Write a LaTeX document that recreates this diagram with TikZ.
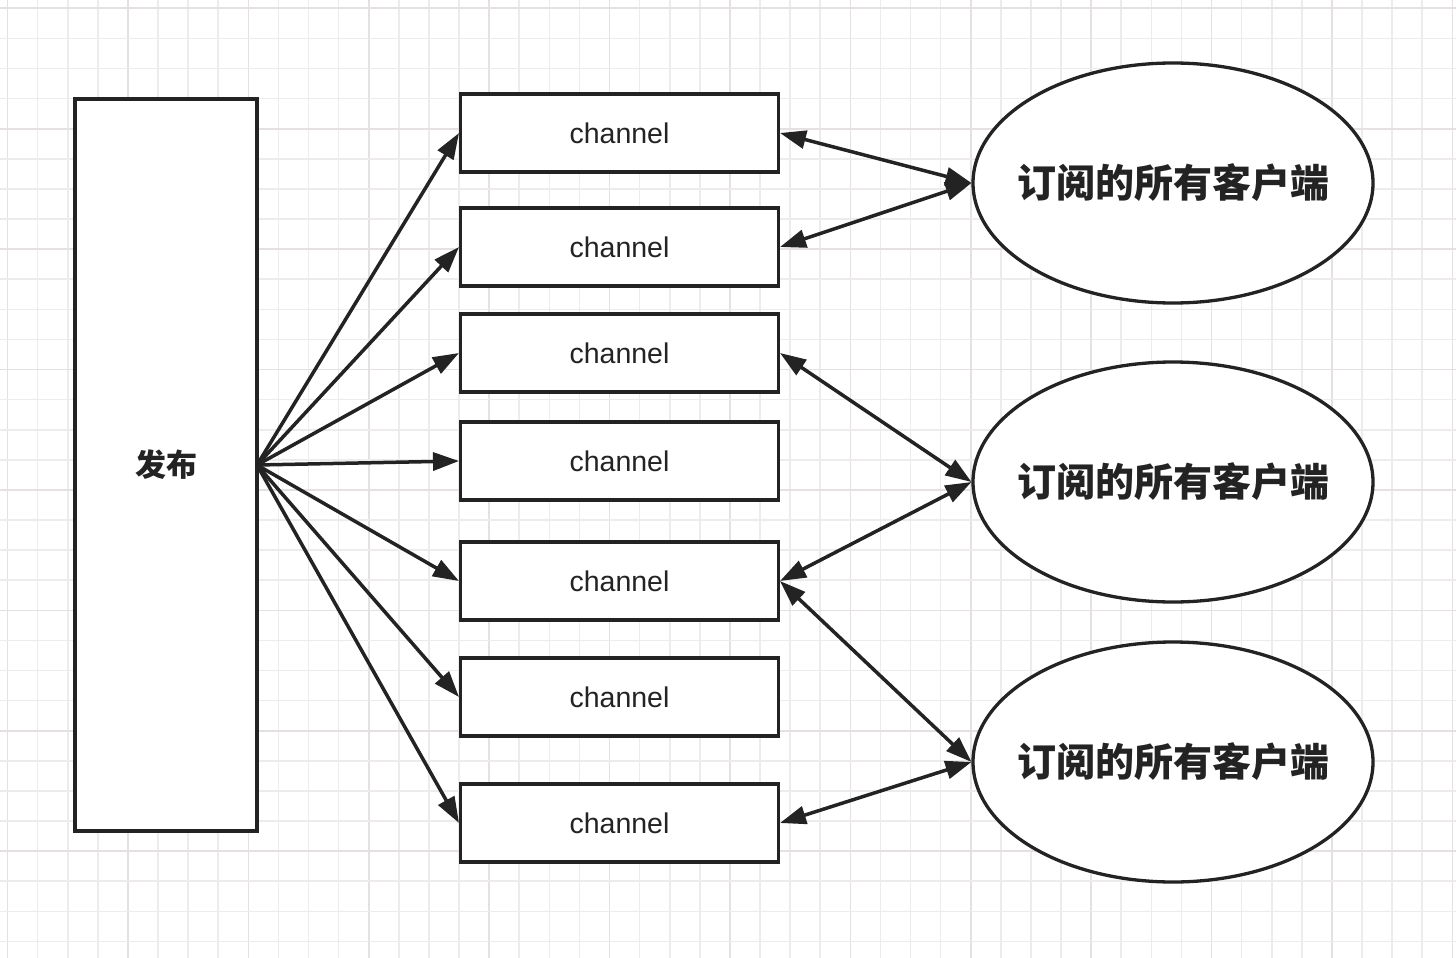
\documentclass[tikz,border=0pt]{standalone}
\usepackage{fontspec}
\setmainfont{Liberation Sans}
\newfontfamily\chfont{Liberation Sans}
\newfontfamily\cjk{Noto Sans CJK SC}
\usetikzlibrary{arrows.meta,shapes.geometric}
\definecolor{ink}{HTML}{232323}
\definecolor{gridminor}{HTML}{EEEBED}
\definecolor{gridmajor}{HTML}{E5E1E3}
\tikzset{
  chbox/.style={draw=ink,line width=3.3pt,fill=white,minimum width=318pt,minimum height=78pt,inner sep=0pt,outer sep=0pt,text=ink,font=\chfont\fontsize{28.5}{32}\selectfont},
  pubbox/.style={draw=ink,line width=3.3pt,fill=white,minimum width=182pt,minimum height=732pt,inner sep=0pt,outer sep=0pt,text=ink,font=\cjk\bfseries\fontsize{31}{36}\selectfont},
  client/.style={ellipse,draw=ink,line width=3.3pt,fill=white,minimum width=400pt,minimum height=240pt,inner xsep=-70pt,inner ysep=0pt,outer sep=0pt,text=ink,font=\cjk\bfseries\fontsize{39}{44}\selectfont},
  conn/.style={draw=ink,line width=3.5pt,-{Triangle[length=26pt,width=18pt]}},
  biconn/.style={draw=ink,line width=3.5pt,{Triangle[length=26pt,width=18pt]}-{Triangle[length=26pt,width=18pt]}},
}
\begin{document}
\begin{tikzpicture}[x=1pt,y=-1pt]
\useasboundingbox (0,0) rectangle (1456,958);
\fill[white] (0,0) rectangle (1456,958);
% grid
\foreach \i in {0,...,48} {
  \pgfmathsetmacro{\xx}{7.5+30.1*\i}
  \pgfmathtruncatemacro{\m}{mod(\i,4)}
  \ifnum\m=0
    \draw[gridmajor,line width=1.6pt] (\xx,0) -- (\xx,958);
  \else
    \draw[gridminor,line width=1.6pt] (\xx,0) -- (\xx,958);
  \fi
}
\foreach \i in {0,...,31} {
  \pgfmathsetmacro{\yy}{8.3+30.1*\i}
  \pgfmathtruncatemacro{\m}{mod(\i,4)}
  \ifnum\m=0
    \draw[gridmajor,line width=1.6pt] (0,\yy) -- (1456,\yy);
  \else
    \draw[gridminor,line width=1.6pt] (0,\yy) -- (1456,\yy);
  \fi
}
% nodes
\node[pubbox] (pub) at (166,465) {发布};
\node[chbox] (c1) at (619.5,133) {channel};
\node[chbox] (c2) at (619.5,247) {channel};
\node[chbox] (c3) at (619.5,353) {channel};
\node[chbox] (c4) at (619.5,461) {channel};
\node[chbox] (c5) at (619.5,581) {channel};
\node[chbox] (c6) at (619.5,697) {channel};
\node[chbox] (c7) at (619.5,823) {channel};
\node[client] (e1) at (1173,183) {订阅的所有客户端};
\node[client] (e2) at (1173,482) {订阅的所有客户端};
\node[client] (e3) at (1173,762) {订阅的所有客户端};
% publish arrows
\coordinate (src) at (pub.east);
\foreach \c in {c1,c2,c3,c4,c5,c6,c7} {
  \draw[conn] (src) -- ([xshift=-1.5pt]\c.west);
}
% subscriptions
\draw[biconn] ([xshift=1.5pt]c1.east) -- ([xshift=-1.5pt]e1.west);
\draw[biconn] ([xshift=1.5pt]c2.east) -- ([xshift=-1.5pt]e1.west);
\draw[biconn] ([xshift=1.5pt]c3.east) -- ([xshift=-1.5pt]e2.west);
\draw[biconn] ([xshift=1.5pt]c5.east) -- ([xshift=-1.5pt]e2.west);
\draw[biconn] ([xshift=1.5pt]c5.east) -- ([xshift=-1.5pt]e3.west);
\draw[biconn] ([xshift=1.5pt]c7.east) -- ([xshift=-1.5pt]e3.west);
\end{tikzpicture}
\end{document}
